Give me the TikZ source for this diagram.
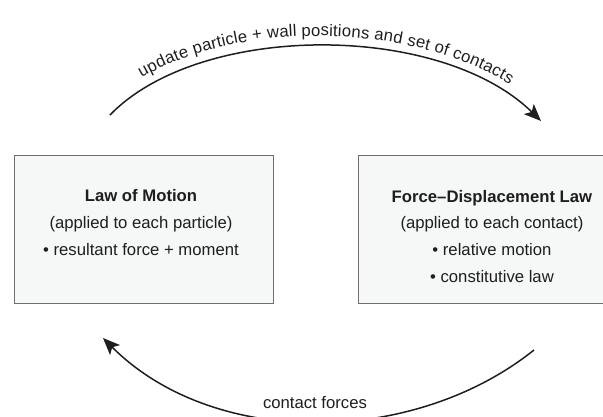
\documentclass[tikz,border=0pt]{standalone}
\usepackage{fontspec}
\setmainfont{Liberation Sans}
\usetikzlibrary{arrows.meta,decorations.text}
\definecolor{boxfill}{RGB}{246,247,247}
\definecolor{boxline}{RGB}{110,110,110}
\definecolor{ink}{RGB}{30,30,30}
\tikzset{
  lawbox/.style={draw=boxline, line width=1pt, fill=boxfill, rectangle, inner sep=0pt},
  lawtext/.style={align=center, anchor=base, inner sep=0pt, text=ink,
    font=\fontsize{16.7}{26.6}\selectfont},
  looparrow/.style={draw=ink, line width=1.5pt,
    -{Stealth[length=17pt,width=14pt,inset=4pt]}},
  looplabel/.style={anchor=base, inner sep=0pt, text=ink,
    font=\fontsize{16.7}{20}\selectfont}
}
\begin{document}
\begin{tikzpicture}[x=1pt,y=-1pt]
\useasboundingbox (0,0) rectangle (603,416);
\clip (0,0) rectangle (603,416);
% boxes
\node[lawbox, minimum width=259pt, minimum height=148pt] (lom) at (143.5,229) {};
\node[lawbox, minimum width=268pt, minimum height=148pt] (fdl) at (492,229) {};
% texts (anchor base = baseline of the last line)
\node[lawtext] (lomtext) at (141,255)
  {\textbf{Law of Motion}\\(applied to each particle)\\• resultant force + moment};
\node[lawtext] (fdltext) at (492,282)
  {\textbf{Force–Displacement Law}\\(applied to each contact)\\• relative motion\\• constitutive law};
% connector end points
\coordinate (topstart) at (110,115);
\coordinate (topend) at (541,121);
\coordinate (botstart) at (534,350);
\coordinate (botend) at (103,338);
% top loop arrow with curved label
\path[looparrow, postaction={decorate, decoration={text along path,
    text align=center, raise=10pt,
    text={|\fontsize{16.7}{20}\selectfont\color{ink}|update particle + wall positions and set of contacts}}}]
  (topstart) .. controls (200,22) and (440,22) .. (topend);
% bottom loop arrow
\path[looparrow] (botstart) .. controls (414,446) and (214,449) .. (botend);
\node[looplabel] (cf) at (315,408) {contact forces};
\end{tikzpicture}
\end{document}
